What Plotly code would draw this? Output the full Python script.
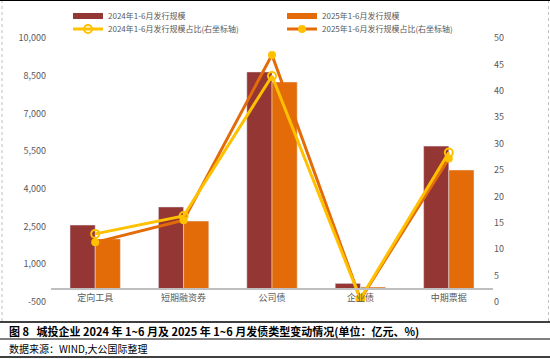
import plotly.graph_objects as go

categories = ["定向工具", "短期融资券", "公司债", "企业债", "中期票据"]
scale_2024 = [2560, 3280, 8650, 240, 5700]
scale_2025 = [2010, 2720, 8250, 95, 4750]
share_2024 = [12.9, 16.3, 42.8, 0.6, 28.3]
share_2025 = [11.3, 15.5, 46.8, 0.5, 27.2]

left_ticks = [-500, 1000, 2500, 4000, 5500, 7000, 8500, 10000]
left_ticktext = ["-500", "1,000", "2,500", "4,000", "5,500", "7,000", "8,500", "10,000"]
right_ticks = [0, 5, 10, 15, 20, 25, 30, 35, 40, 45, 50]

name_bar24 = "2024年1-6月发行规模"
name_bar25 = "2025年1-6月发行规模"
name_line24 = "2024年1-6月发行规模占比(右坐标轴)"
name_line25 = "2025年1-6月发行规模占比(右坐标轴)"
caption = "图 8   城投企业 2024 年 1~6 月及 2025 年 1~6 月发债类型变动情况(单位：亿元、%)"
source = "数据来源：WIND,大公国际整理"

C_RED = "#943634"
C_ORANGE = "#E36C09"
C_YELLOW = "#FFC000"
FONT = "Noto Sans CJK SC"

W, H = 550, 359
L, R, T, B = 51, 57, 38, 57
PW, PH = W - L - R, H - T - B


def px_x(x):
    return (x - L) / PW


def px_y(y):
    return (H - B - y) / PH


fig = go.Figure()
fig.add_trace(go.Bar(x=categories, y=scale_2024, marker_color=C_RED, showlegend=False, yaxis="y"))
fig.add_trace(go.Bar(x=categories, y=scale_2025, marker_color=C_ORANGE, showlegend=False, yaxis="y"))

# legend entries for bars (wide rectangle look)
fig.add_trace(go.Scatter(x=[None], y=[None], mode="lines", line=dict(color=C_RED, width=6),
                         name=name_bar24, legend="legend", yaxis="y"))
fig.add_trace(go.Scatter(x=[None], y=[None], mode="lines", line=dict(color=C_ORANGE, width=6),
                         name=name_bar25, legend="legend2", yaxis="y"))

fig.add_trace(go.Scatter(x=categories, y=share_2025, mode="lines+markers", name=name_line25,
                         line=dict(color=C_ORANGE, width=3),
                         marker=dict(color=C_YELLOW, size=8, symbol="circle"),
                         yaxis="y2", legend="legend4"))
fig.add_trace(go.Scatter(x=categories, y=share_2024, mode="lines+markers", name=name_line24,
                         line=dict(color=C_YELLOW, width=3),
                         marker=dict(color=C_YELLOW, size=8, symbol="circle-open", line=dict(width=2)),
                         yaxis="y2", legend="legend3"))

tickfont = dict(family=FONT, size=9, color="#595959")
legfont = dict(family=FONT, size=8, color="#595959")


def leg(xp, yp):
    return dict(x=px_x(xp), y=px_y(yp), xanchor="left", yanchor="middle", orientation="v",
                font=legfont, bgcolor="rgba(0,0,0,0)", itemwidth=30, tracegroupgap=0)


fig.update_layout(
    width=W, height=H,
    margin=dict(l=L, r=R, t=T, b=B, autoexpand=False),
    paper_bgcolor="white", plot_bgcolor="white",
    barmode="group", bargap=0.43, bargroupgap=0,
    font=dict(family=FONT),
    xaxis=dict(anchor="free", position=px_y(289.4), showline=True, linecolor="#BFBFBF", linewidth=1.5,
               ticks="", tickfont=tickfont, showgrid=False, fixedrange=True, automargin=False),
    yaxis=dict(range=[-500, 10000], tickvals=left_ticks, ticktext=left_ticktext, showgrid=False,
               zeroline=False, showline=False, tickfont=tickfont, ticks="", automargin=False,
               ticklabelstandoff=4),
    yaxis2=dict(range=[0, 50], tickvals=right_ticks, overlaying="y", side="right", showgrid=False,
                zeroline=False, showline=False, tickfont=tickfont, ticks="", automargin=False),
    legend=leg(68, 16),
    legend2=leg(282, 16),
    legend3=leg(68, 29),
    legend4=leg(282, 29),
)

shapes = []
# dashed borders
for xx in (2, 548.5):
    shapes.append(dict(type="line", xref="paper", yref="paper", x0=px_x(xx), x1=px_x(xx),
                       y0=px_y(0), y1=px_y(321), line=dict(color="#BFBFBF", width=1, dash="dot")))
# top line
shapes.append(dict(type="line", xref="paper", yref="paper", x0=px_x(0), x1=px_x(550),
                   y0=px_y(0.5), y1=px_y(0.5), line=dict(color="black", width=1)))
# caption lines
for yy, wd in ((322, 1.5), (339, 1), (357, 1.5)):
    shapes.append(dict(type="line", xref="paper", yref="paper", x0=px_x(0), x1=px_x(550),
                       y0=px_y(yy), y1=px_y(yy), line=dict(color="black", width=wd)))
fig.update_layout(shapes=shapes)

fig.add_annotation(text="<b>" + caption + "</b>", xref="paper", yref="paper", x=px_x(7), y=px_y(331),
                   xanchor="left", yanchor="middle", showarrow=False,
                   font=dict(family=FONT, size=11, color="black"))
fig.add_annotation(text=source, xref="paper", yref="paper", x=px_x(7), y=px_y(348.5),
                   xanchor="left", yanchor="middle", showarrow=False,
                   font=dict(family=FONT, size=10, color="black"))

fig.write_html("out.html", config={"displayModeBar": False},
               post_script="document.body.style.margin='0';document.body.style.overflow='hidden';")
